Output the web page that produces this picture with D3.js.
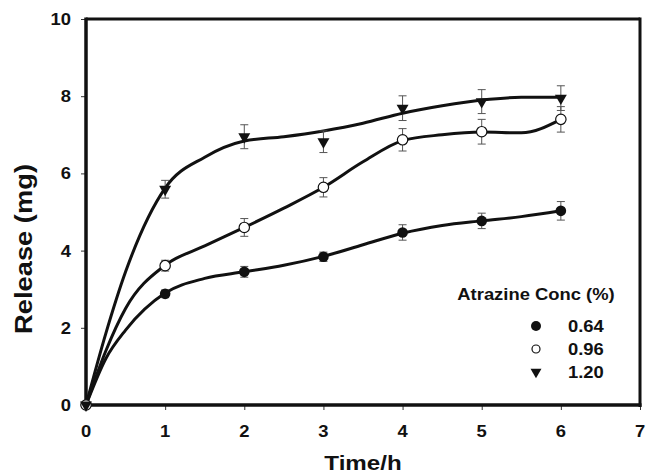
<!DOCTYPE html>
<html>
<head>
<meta charset="utf-8">
<script src="https://cdn.jsdelivr.net/npm/d3@7/dist/d3.min.js"></script>
<style>
  html, body { margin: 0; padding: 0; background: #fff; }
  svg { display: block; }
  text { font-family: "Liberation Sans", Arial, sans-serif; font-weight: bold; fill: #111; }
</style>
</head>
<body>
<svg id="chart" width="646" height="475"></svg>
<script>
// Sampling times (h)
const times = [0, 1, 2, 3, 4, 5, 6];

// Measured release (mg) and standard deviations per atrazine concentration
const release064 = [0, 2.88, 3.45, 3.84, 4.47, 4.77, 5.03];
const error064   = [0, 0.10, 0.14, 0.12, 0.20, 0.20, 0.24];
const release096 = [0, 3.61, 4.60, 5.64, 6.87, 7.08, 7.40];
const error096   = [0, 0.14, 0.23, 0.25, 0.29, 0.32, 0.33];
const release120 = [0, 5.59, 6.95, 6.82, 7.69, 7.86, 7.95];
const error120   = [0, 0.23, 0.31, 0.28, 0.32, 0.31, 0.32];

// Smoothed fit curves through the release data
const fitTimes = [0, 0.25, 0.5, 1, 1.5, 2, 2.5, 3, 3.5, 4, 4.5, 5, 5.5, 6];
const fit064 = [0, 1.20, 1.94, 2.90, 3.28, 3.45, 3.62, 3.85, 4.15, 4.45, 4.65, 4.77, 4.88, 5.03];
const fit096 = [0, 1.40, 2.50, 3.62, 4.12, 4.60, 5.10, 5.64, 6.30, 6.85, 7.00, 7.07, 7.05, 7.40];
const fit120 = [0, 1.85, 3.45, 5.62, 6.42, 6.84, 6.95, 7.10, 7.30, 7.56, 7.75, 7.90, 7.97, 7.97];

const seriesNames = ["0.64", "0.96", "1.20"];
const xTicks = [0, 1, 2, 3, 4, 5, 6, 7];
const yTicks = [0, 2, 4, 6, 8, 10];
const xTitle = "Time/h";
const yTitle = "Release (mg)";
const legendTitle = "Atrazine Conc (%)";

const series = [
  { name: seriesNames[0], values: release064, errors: error064, fit: fit064, marker: "filled" },
  { name: seriesNames[1], values: release096, errors: error096, fit: fit096, marker: "open" },
  { name: seriesNames[2], values: release120, errors: error120, fit: fit120, marker: "triangle" }
];

const svg = d3.select("#chart");
const x = d3.scaleLinear().domain([0, 7]).range([86, 640]);
const y = d3.scaleLinear().domain([0, 10]).range([405, 19]);
const HS = 1.15; // horizontal stretch of lettering

function label(g, px, py, str, size, anchor, rotate) {
  return g.append("g")
    .attr("transform", `translate(${px},${py})` + (rotate ? ` rotate(${rotate})` : "") + ` scale(${HS},1)`)
    .append("text")
    .attr("font-size", size)
    .attr("text-anchor", anchor)
    .text(str);
}

// Markers
function drawMarker(g, kind, cx, cy, small) {
  if (kind === "filled") {
    g.append("circle").attr("cx", cx).attr("cy", cy).attr("r", small ? 5 : 5.3).attr("fill", "#111");
  } else if (kind === "open") {
    g.append("circle").attr("cx", cx).attr("cy", cy).attr("r", small ? 4 : 5.2)
      .attr("fill", "#fff").attr("stroke", "#111").attr("stroke-width", 1.2);
  } else {
    g.append("path")
      .attr("d", d3.symbol(d3.symbolTriangle, small ? 52 : 62)())
      .attr("transform", `translate(${cx},${cy}) rotate(180)`)
      .attr("fill", "#111");
  }
}

// Axis ticks
const axes = svg.append("g");
axes.append("g").attr("transform", "translate(0,405)")
  .call(d3.axisBottom(x).tickValues(xTicks).tickSize(5).tickFormat(""))
  .call(g => g.select(".domain").remove())
  .selectAll("line").attr("stroke", "#333").attr("stroke-width", 1);
axes.append("g").attr("transform", "translate(86,0)")
  .call(d3.axisLeft(y).tickValues(yTicks).tickSize(5).tickFormat(""))
  .call(g => g.select(".domain").remove())
  .selectAll("line").attr("stroke", "#333").attr("stroke-width", 1);

// Tick labels
xTicks.forEach(v => label(svg, x(v), 437, String(v), 16, "middle"));
yTicks.forEach(v => label(svg, 71, y(v) + 6, String(v), 16, "end"));

// Frame
const frame = svg.append("g").attr("stroke", "#111").attr("fill", "none");
frame.append("line").attr("x1", x(0)).attr("x2", x(7)).attr("y1", y(10)).attr("y2", y(10)).attr("stroke-width", 3);
frame.append("line").attr("x1", x(7)).attr("x2", x(7)).attr("y1", y(10) - 1.5).attr("y2", y(0) + 2).attr("stroke-width", 3);
frame.append("line").attr("x1", x(0)).attr("x2", x(0)).attr("y1", y(10) - 1.5).attr("y2", y(0) + 2).attr("stroke-width", 3.5);
frame.append("line").attr("x1", x(0) - 1.5).attr("x2", x(7) + 1.5).attr("y1", y(0)).attr("y2", y(0)).attr("stroke-width", 3.5);

// Fit curves
const line = d3.line().x(d => x(d[0])).y(d => y(d[1])).curve(d3.curveMonotoneX);
const plot = svg.append("g");
series.forEach(s => {
  plot.append("path")
    .attr("d", line(fitTimes.map((t, i) => [t, s.fit[i]])))
    .attr("fill", "none").attr("stroke", "#111").attr("stroke-width", 3).attr("stroke-linecap", "round");
});

// Error bars
series.forEach(s => {
  const eg = plot.append("g").attr("stroke", "#555").attr("stroke-width", 1);
  times.forEach((t, i) => {
    if (!s.errors[i]) return;
    const cx = x(t), top = y(s.values[i] + s.errors[i]), bot = y(s.values[i] - s.errors[i]);
    eg.append("line").attr("x1", cx).attr("x2", cx).attr("y1", top).attr("y2", bot);
    eg.append("line").attr("x1", cx - 4).attr("x2", cx + 4).attr("y1", top).attr("y2", top);
    eg.append("line").attr("x1", cx - 4).attr("x2", cx + 4).attr("y1", bot).attr("y2", bot);
  });
});

// Data markers
series.forEach(s => {
  times.forEach((t, i) => drawMarker(plot, s.marker, x(t), y(s.values[i]), false));
});

// Axis titles
label(svg, 363, 470, xTitle, 21, "middle");
svg.append("text")
  .attr("transform", "translate(32,249) rotate(-90)")
  .attr("font-size", 24)
  .attr("text-anchor", "middle")
  .attr("textLength", 170)
  .attr("lengthAdjust", "spacingAndGlyphs")
  .text(yTitle);

// Legend
const legend = svg.append("g");
label(legend, 536, 300, legendTitle, 16, "middle");
series.forEach((s, i) => {
  const ly = 326 + i * 23;
  drawMarker(legend, s.marker, 536, ly, true);
  label(legend, 568, ly + 5.5, s.name, 16, "start");
});
</script>
</body>
</html>
